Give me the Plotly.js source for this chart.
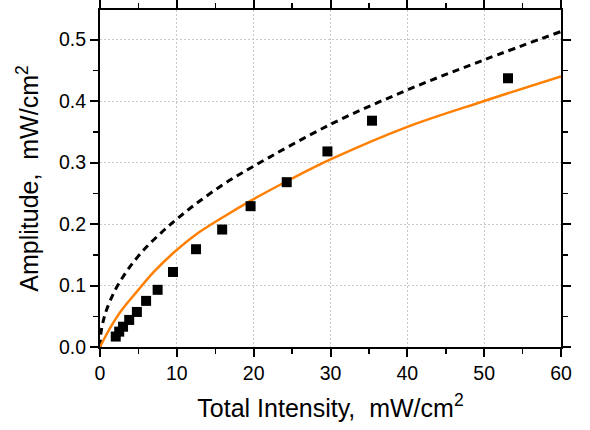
<!DOCTYPE html>
<html>
<head>
<meta charset="utf-8">
<script src="https://cdn.plot.ly/plotly-3.0.1.min.js"></script>
<style>html,body{margin:0;padding:0;background:#fff;}#chart{width:590px;height:430px;}</style>
</head>
<body>
<div id="chart"></div>
<script>
// Measured data (squares)
var measX = [2.05, 2.5, 3.0, 3.8, 4.8, 6.0, 7.5, 9.5, 12.5, 15.9, 19.6, 24.3, 29.6, 35.4, 53.1];
var measY = [0.017, 0.025, 0.033, 0.044, 0.057, 0.075, 0.093, 0.122, 0.159, 0.191, 0.229, 0.268, 0.318, 0.368, 0.437];

// Solid orange curve
var fitX = [0, 1, 2, 3, 4.8, 7, 9.46, 12.5, 16, 19.65, 25, 30, 40, 50, 60];
var fitY = [0, 0.024, 0.045, 0.063, 0.090, 0.122, 0.152, 0.183, 0.211, 0.238, 0.274, 0.305, 0.358, 0.400, 0.440];

// Dashed black curve
var dashX = [0, 0.15, 0.5, 0.87, 1.95, 3.69, 5.86, 8.24, 10, 12.4, 16, 20, 30, 40, 50, 60];
var dashY = [0, 0.025, 0.046, 0.061, 0.092, 0.127, 0.160, 0.189, 0.208, 0.232, 0.264, 0.294, 0.362, 0.418, 0.467, 0.513];

var xTickVals = [0, 10, 20, 30, 40, 50, 60];
var yTickVals = [0, 0.1, 0.2, 0.3, 0.4, 0.5];
var yTickText = ['0.0', '0.1', '0.2', '0.3', '0.4', '0.5'];

var traces = [
  {x: dashX, y: dashY, mode: 'lines', type: 'scatter',
   line: {color: '#000000', width: 3, dash: '7px,5px', shape: 'spline', smoothing: 1}},
  {x: fitX, y: fitY, mode: 'lines', type: 'scatter',
   line: {color: '#FF7F00', width: 2.5, shape: 'spline', smoothing: 1}},
  {x: measX, y: measY, mode: 'markers', type: 'scatter',
   marker: {symbol: 'square', size: 10, color: '#000000', line: {width: 0}}}
];

var fontFam = 'Liberation Sans, Arial, sans-serif';
var axisCommon = {
  showline: true, linecolor: '#000', linewidth: 2, mirror: 'ticks',
  ticks: 'outside', ticklen: 8, tickwidth: 2, tickcolor: '#000',
  showgrid: true, gridcolor: '#c8c8c8', gridwidth: 1, griddash: '2px,2px',
  zeroline: false,
  tickfont: {family: fontFam, size: 19.5, color: '#000'}
};

var layout = {
  width: 590, height: 430,
  margin: {l: 100, r: 29, t: 10, b: 83},
  paper_bgcolor: '#fff', plot_bgcolor: '#fff',
  showlegend: false,
  xaxis: Object.assign({}, axisCommon, {
    range: [0, 60], tickmode: 'array', tickvals: xTickVals,
    minor: {dtick: 5, ticks: 'outside', ticklen: 5, tickwidth: 1.5, tickcolor: '#000', showgrid: false},
    title: {text: 'Total Intensity,&nbsp; mW/cm<sup>2</sup>', font: {family: fontFam, size: 25, color: '#000'}, standoff: 16}
  }),
  yaxis: Object.assign({}, axisCommon, {
    range: [0, 0.548], tickmode: 'array', tickvals: yTickVals, ticktext: yTickText,
    minor: {dtick: 0.05, ticks: 'outside', ticklen: 5, tickwidth: 1.5, tickcolor: '#000', showgrid: false},
    title: {text: 'Amplitude,&nbsp; mW/cm<sup>2</sup>', font: {family: fontFam, size: 25, color: '#000'}, standoff: 13}
  })
};

Plotly.newPlot('chart', traces, layout, {staticPlot: true, displayModeBar: false});
</script>
</body>
</html>
